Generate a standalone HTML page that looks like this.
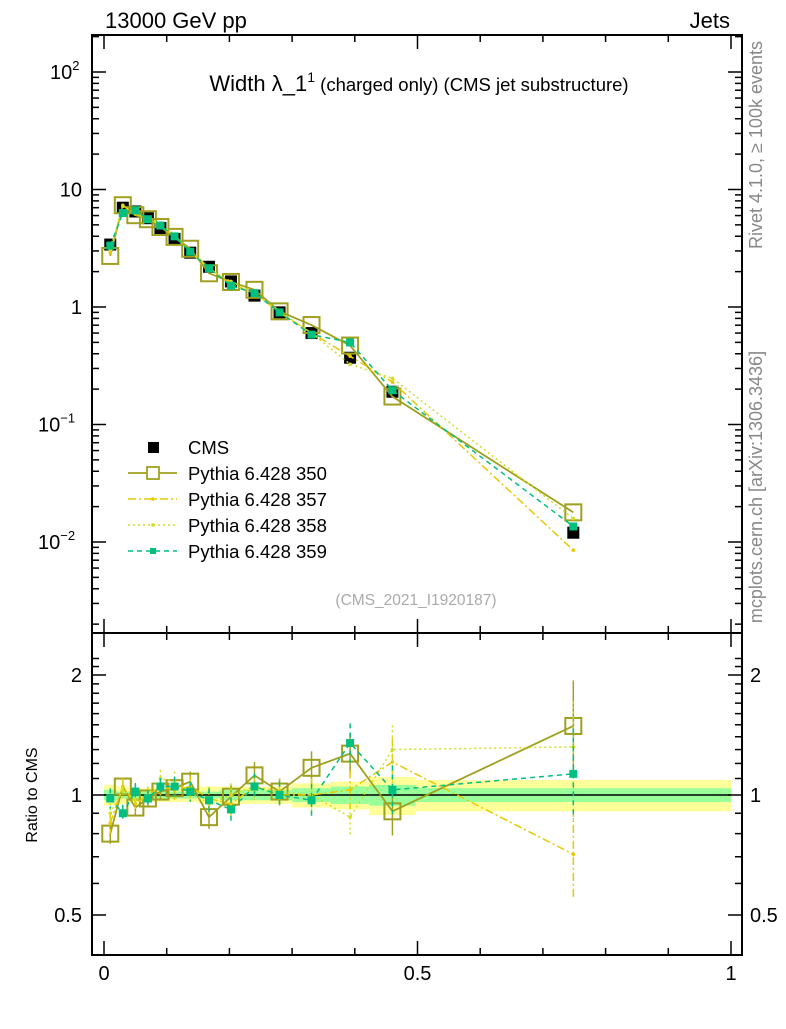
<!DOCTYPE html>
<html><head><meta charset="utf-8"><style>
body{margin:0;background:#fff}
svg{font-family:"Liberation Sans",sans-serif}
</style></head><body>
<svg id="c" width="786" height="1024" viewBox="0 0 786 1024" xmlns="http://www.w3.org/2000/svg">
<text x="105" y="28" font-size="22">13000 GeV pp</text>
<text x="730" y="28" font-size="22" text-anchor="end">Jets</text>
<text x="419" y="91" font-size="22" text-anchor="middle">Width λ_1<tspan font-size="14" dy="-9">1</tspan><tspan font-size="18.5" dy="9"> (charged only) (CMS jet substructure)</tspan></text>
<text transform="translate(762,145) rotate(-90)" font-size="18" fill="#888" text-anchor="middle">Rivet 4.1.0, ≥ 100k events</text>
<text transform="translate(762,487) rotate(-90)" font-size="18" fill="#888" text-anchor="middle">mcplots.cern.ch [arXiv:1306.3436]</text>
<text x="416" y="605" font-size="15.5" fill="#aaa" text-anchor="middle">(CMS_2021_I1920187)</text>
<text transform="translate(37,795) rotate(-90)" font-size="16" text-anchor="middle">Ratio to CMS</text>
<g id="g"></g>
</svg>
<script>
const edges=[0,0.02,0.04,0.06,0.08,0.1,0.125,0.15,0.185,0.22,0.26,0.3,0.362,0.423,0.497,1.0];
const cmsVals=[3.4,7.0,6.5,5.7,4.7,3.8,2.9,2.2,1.65,1.25,0.9,0.6,0.37,0.19,0.012];
const cmsStat=[0.03,0.02,0.02,0.02,0.02,0.02,0.02,0.02,0.03,0.03,0.03,0.04,0.05,0.06,0.04];
const cmsTot=[0.06,0.05,0.04,0.04,0.04,0.04,0.04,0.05,0.05,0.05,0.05,0.07,0.08,0.11,0.09];
const r350=[0.8,1.05,0.93,0.98,1.02,1.04,1.08,0.88,0.99,1.12,1.02,1.17,1.27,0.91,1.49];
const r357=[0.85,1.05,0.95,1.0,1.05,1.03,1.05,0.98,0.95,1.05,1.0,1.0,1.03,1.21,0.71];
const r358=[0.9,1.03,0.97,1.0,1.1,1.08,1.02,0.95,1.0,1.05,1.02,1.0,0.88,1.3,1.32];
const r359=[0.98,0.9,1.02,0.98,1.05,1.05,1.02,0.97,0.92,1.05,1.0,0.97,1.35,1.03,1.13];
const rErr=[0.06,0.05,0.05,0.05,0.05,0.06,0.06,0.07,0.07,0.08,0.08,0.1,0.12,0.15,0.3];
const xTicks=[0,0.5,1];const xTickLabels=["0","0.5","1"];
const NS="http://www.w3.org/2000/svg",G=document.getElementById('g');
const X=v=>104+627*v;
const YM=v=>307-117.5*Math.log10(v);
const YR=r=>795-120*Math.log2(r);
function el(t,a,p){const e=document.createElementNS(NS,t);for(const k in a)e.setAttribute(k,a[k]);(p||G).appendChild(e);return e;}
const mids=edges.slice(0,-1).map((e,i)=>(e+edges[i+1])/2);
cmsVals.forEach((v,i)=>{
 const x0=X(edges[i]),w=X(edges[i+1])-x0;
 let b=el('rect',{x:x0,y:YR(1+cmsTot[i]),width:w,height:YR(1-cmsTot[i])-YR(1+cmsTot[i]),fill:'#ffff99'});
 
 
 b=el('rect',{x:x0,y:YR(1+cmsStat[i]),width:w,height:YR(1-cmsStat[i])-YR(1+cmsStat[i]),fill:'#99ff99'});
 
 
});
el('line',{x1:X(edges[0]),x2:X(1),y1:YR(1),y2:YR(1),stroke:'#000','stroke-width':1.5});
el('rect',{x:92,y:35,width:650,height:598,fill:'none',stroke:'#000','stroke-width':2});
el('rect',{x:92,y:633,width:650,height:322,fill:'none',stroke:'#000','stroke-width':2});
for(let k=0;k<=10;k++){const v=k/10,x=X(v),L=k%5==0?14:7;
 [[35,1],[633,-1],[633,1],[955,-1]].forEach(([y,d])=>el('line',{x1:x,x2:x,y1:y,y2:y+d*L,stroke:'#000','stroke-width':1.5}));}
xTicks.forEach((v,i)=>{const t=el('text',{x:X(v),y:980,'font-size':20,'text-anchor':'middle'});t.textContent=xTickLabels[i];
 
 });
for(let d=-3;d<=2;d++){for(let m=1;m<10;m++){const v=m*Math.pow(10,d),y=YM(v);if(y<35||y>633)continue;
 const L=m==1?14:7;el('line',{x1:92,x2:92+L,y1:y,y2:y,stroke:'#000','stroke-width':1.5});el('line',{x1:742,x2:742-L,y1:y,y2:y,stroke:'#000','stroke-width':1.5});}}
[[2,'10','2'],[1,'10',''],[0,'1',''],[-1,'10','−1'],[-2,'10','−2']].forEach(([d,b,e])=>{
 const t=el('text',{x:82,y:YM(Math.pow(10,d))+7,'font-size':20,'text-anchor':'end'});t.textContent=b;
 if(e){const s=el('tspan',{'font-size':13,dy:-9},t);s.textContent=e;t.setAttribute('text-anchor','start');t.setAttribute('x',e.length>1?38:50);}
 
 });
for(let r=0.5;r<=2.3;r+=0.1){const y=YR(r);if(y<633||y>955)continue;const L=(Math.abs(r-0.5)<1e-6||Math.abs(r-1)<1e-6||Math.abs(r-2)<1e-6)?14:7;
 el('line',{x1:92,x2:92+L,y1:y,y2:y,stroke:'#000','stroke-width':1.5});el('line',{x1:742,x2:742-L,y1:y,y2:y,stroke:'#000','stroke-width':1.5});}
[[2,'2'],[1,'1'],[0.5,'0.5']].forEach(([r,s])=>{[[82,'end'],[750,'start']].forEach(([x,a])=>{const t=el('text',{x:x,y:YR(r)+7,'font-size':20,'text-anchor':a});t.textContent=s;
 
 });});
const series=[
 {n:'pythia-350',r:r350,c:'#a0a020',d:'',w:1.8,m:'open'},
 {n:'pythia-357',r:r357,c:'#e8c800',d:'8 3 2 3',w:1.5,m:'dot'},
 {n:'pythia-358',r:r358,c:'#d0e020',d:'2 3',w:1.5,m:'dot'},
 {n:'pythia-359',r:r359,c:'#00c080',d:'5 4',w:1.5,m:'fill'}];
cmsVals.forEach((v,i)=>{const m=el('rect',{x:X(mids[i])-6,y:YM(v)-6,width:12,height:12,fill:'#000'});
 
 });
series.forEach(s=>{
 const mv=cmsVals.map((v,i)=>v*s.r[i]);
 const ptsM=mv.map((v,i)=>X(mids[i])+','+YM(v)).join(' ');
 const ptsR=s.r.map((r,i)=>X(mids[i])+','+YR(r)).join(' ');
 let l=el('polyline',{points:ptsM,fill:'none',stroke:s.c,'stroke-width':s.w,'stroke-dasharray':s.d});
 
 
 l=el('polyline',{points:ptsR,fill:'none',stroke:s.c,'stroke-width':s.w,'stroke-dasharray':s.d});
 
 
 s.r.forEach((r,i)=>{const x=X(mids[i]);
  el('line',{x1:x,x2:x,y1:YR(r*(1+rErr[i])),y2:YR(r/(1+rErr[i])),stroke:s.c,'stroke-width':1.5,'stroke-dasharray':s.d});
  [[YR,r],[YM,mv[i]]].forEach(([F,v])=>{const y=F(v);let m;
   if(s.m=='open')m=el('rect',{x:x-8,y:y-8,width:16,height:16,fill:'none',stroke:s.c,'stroke-width':2});
   else if(s.m=='fill')m=el('rect',{x:x-4,y:y-4,width:8,height:8,fill:s.c});
   else m=el('circle',{cx:x,cy:y,r:1.8,fill:s.c});
   
   });
 });
});
const legNames=['Pythia 6.428 350','Pythia 6.428 357','Pythia 6.428 358','Pythia 6.428 359'];
let lm=el('rect',{x:148,y:442,width:11,height:11,fill:'#000'});


let lt=el('text',{x:188,y:454,'font-size':18.5});lt.textContent='CMS';


series.forEach((s,k)=>{const y=473+k*26;
 el('line',{x1:128,x2:177,y1:y,y2:y,stroke:s.c,'stroke-width':s.w,'stroke-dasharray':s.d});
 if(s.m=='open')el('rect',{x:147,y:y-6,width:12,height:12,fill:'#fff',stroke:s.c,'stroke-width':1.8});
 else if(s.m=='fill')el('rect',{x:150,y:y-3,width:6,height:6,fill:s.c});
 else el('circle',{cx:153,cy:y,r:1.8,fill:s.c});
 const t=el('text',{x:188,y:y+7,'font-size':18.5});t.textContent=legNames[k];
 
 });
</script>
</body></html>
